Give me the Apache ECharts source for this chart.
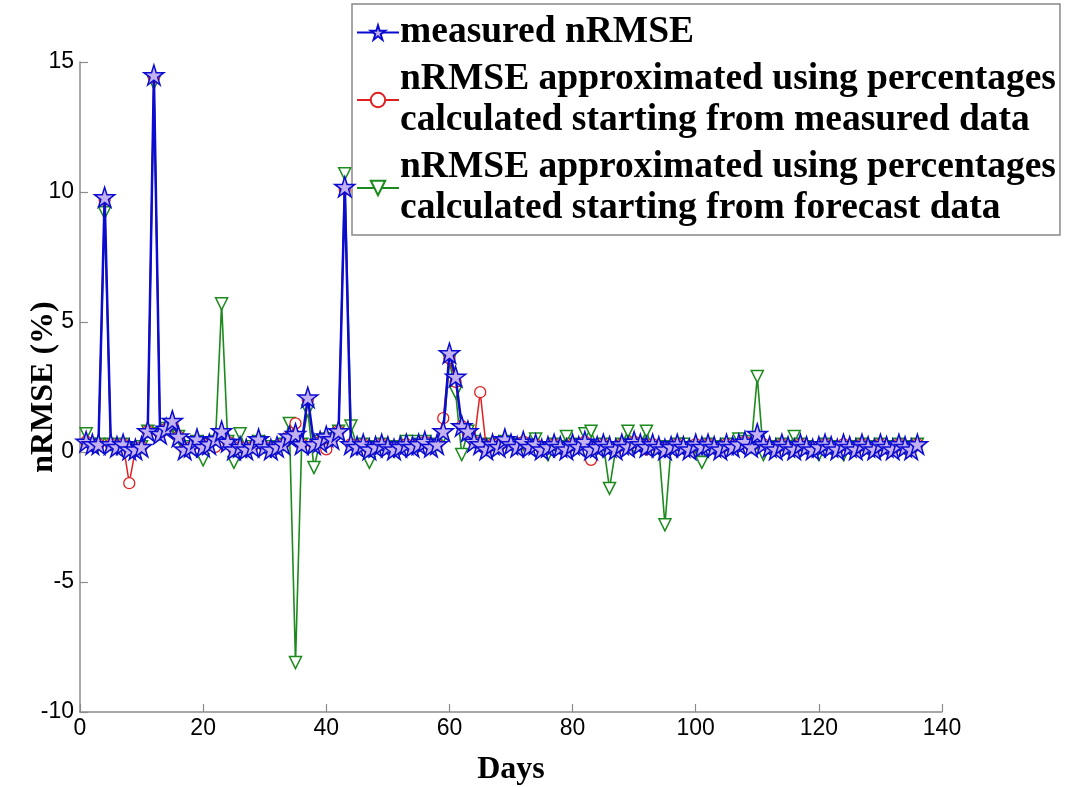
<!DOCTYPE html>
<html>
<head>
<meta charset="utf-8">
<script src="https://cdn.jsdelivr.net/npm/echarts@6/dist/echarts.min.js"></script>
<style>html,body{margin:0;padding:0;background:#fff;}#c{width:1068px;height:787px;}</style>
</head>
<body>
<div id="c"></div>
<script>
const seriesNames = [
  'measured nRMSE',
  'nRMSE approximated using percentages\ncalculated starting from measured data',
  'nRMSE approximated using percentages\ncalculated starting from forecast data'
];
const xTicks = [0, 20, 40, 60, 80, 100, 120, 140];
const yTicks = [-10, -5, 0, 5, 10, 15];
const days = Array.from({length: 136}, (_, i) => i + 1);

const measured = [
  0.4,0.3,0.3,9.8,0.3,0.2,0.3,0.1,0.1,0.2,
  0.8,14.5,0.7,0.9,1.2,0.6,0.1,0.2,0.5,0.2,
  0.3,0.5,0.8,0.4,0.1,0.2,0.1,0.2,0.5,0.2,
  0.1,0.2,0.3,0.6,0.7,0.3,2.1,0.3,0.4,0.6,
  0.5,0.8,10.2,0.3,0.2,0.3,0.1,0.2,0.3,0.2,
  0.1,0.2,0.3,0.2,0.3,0.4,0.2,0.3,0.8,3.8,
  2.9,1.0,0.8,0.4,0.3,0.1,0.3,0.2,0.5,0.3,
  0.2,0.4,0.2,0.3,0.1,0.2,0.3,0.2,0.1,0.3,
  0.2,0.4,0.1,0.2,0.3,0.2,0.1,0.3,0.2,0.4,
  0.3,0.2,0.3,0.2,0.1,0.2,0.3,0.2,0.1,0.3,
  0.2,0.3,0.2,0.1,0.3,0.2,0.3,0.4,0.2,0.7,
  0.3,0.2,0.1,0.3,0.2,0.1,0.3,0.2,0.1,0.2,
  0.3,0.2,0.1,0.3,0.2,0.1,0.3,0.2,0.1,0.3,
  0.2,0.1,0.3,0.2,0.1,0.3
];
const approxMeasured = [
  0.4,0.3,0.3,9.7,0.3,0.2,0.3,-1.2,0.1,0.2,
  0.8,14.4,0.7,0.9,1.1,0.6,0.1,0.2,0.4,0.2,
  0.3,0.2,0.7,0.4,0.1,0.2,0.1,0.2,0.4,0.2,
  0.1,0.2,0.3,0.6,1.1,0.3,2.0,0.3,0.4,0.1,
  0.5,0.8,10.1,0.3,0.2,0.3,0.1,0.2,0.3,0.2,
  0.1,0.2,0.3,0.2,0.3,0.4,0.2,0.3,1.3,3.6,
  2.7,1.0,0.7,0.4,2.3,0.1,0.3,0.2,0.4,0.3,
  0.2,0.4,0.2,0.3,0.1,0.2,0.3,0.2,0.1,0.3,
  0.2,0.4,-0.3,0.2,0.3,0.2,0.1,0.3,0.2,0.4,
  0.3,0.1,0.3,0.2,0.1,0.2,0.3,0.2,0.1,0.3,
  0.2,0.3,0.2,0.1,0.3,0.2,0.3,0.4,0.2,0.6,
  0.3,0.2,0.1,0.3,0.2,0.1,0.3,0.2,0.1,0.2,
  0.3,0.2,0.1,0.3,0.2,0.1,0.3,0.2,0.1,0.3,
  0.2,0.1,0.3,0.2,0.1,0.3
];
const approxForecast = [
  0.7,0.3,0.3,9.2,0.3,0.2,0.3,0.1,0.1,0.2,
  0.8,14.2,0.7,0.9,1.0,0.6,0.1,0.2,0.4,-0.3,
  0.3,0.4,5.7,0.4,-0.4,0.7,0.1,0.2,0.4,0.2,
  0.1,0.2,0.3,1.1,-8.1,0.3,1.6,-0.6,0.4,0.5,
  0.5,0.8,10.7,1.0,0.2,0.3,-0.4,0.2,0.3,0.2,
  0.1,0.2,0.4,0.4,0.3,0.4,0.2,0.3,0.6,3.5,
  2.3,-0.1,0.8,0.4,0.3,0.1,0.3,0.2,0.4,0.3,
  0.2,0.3,0.2,0.5,0.1,-0.1,0.3,0.2,0.6,0.3,
  0.2,0.7,0.8,0.2,0.3,-1.4,0.1,0.3,0.8,0.2,
  0.3,0.8,0.1,0.2,-2.8,0.2,0.3,0.3,0.1,0.2,
  -0.4,0.3,0.2,0.1,0.3,0.2,0.5,0.4,0.2,2.9,
  -0.1,0.2,0.1,0.3,0.2,0.6,0.3,0.2,0.1,-0.1,
  0.3,0.2,0.1,-0.1,0.2,0.1,0.3,0.2,0.1,0.3,
  0.2,0.1,0.3,0.2,0.1,0.3
];

const STAR = 'path://M50,0L61.17,34.63L97.55,34.55L68.07,55.87L79.39,90.45L50,69L20.61,90.45L31.93,55.87L2.45,34.55L38.83,34.63Z';
const pairs = arr => days.map((d, i) => [d, arr[i]]);

const chart = echarts.init(document.getElementById('c'), null, {renderer: 'canvas'});
const axisGray = '#8c8c8c';
chart.setOption({
  animation: false,
  backgroundColor: '#fff',
  grid: {left: 80, right: 126, top: 62, bottom: 75, containLabel: false, outerBoundsMode: 'none'},
  legend: {
    orient: 'vertical', left: 352, top: 4,
    padding: [8, 4, 6, 4],
    backgroundColor: '#fff', borderColor: '#888', borderWidth: 1.5, borderRadius: 0,
    itemWidth: 42, itemHeight: 18, itemGap: 6,
    data: seriesNames,
    textStyle: {fontFamily: 'Liberation Serif', fontWeight: 'bold', fontSize: 37.5, lineHeight: 41, color: '#000', padding: [0,0,0,-4]}
  },
  xAxis: {
    type: 'value', min: 0, max: 140, interval: 20,
    name: 'Days', nameLocation: 'middle', nameGap: 42, nameMoveOverlap: false,
    nameTextStyle: {fontFamily: 'Liberation Serif', fontWeight: 'bold', fontSize: 32, color: '#000'},
    axisLine: {onZero: false, lineStyle: {color: axisGray, width: 1.5}},
    axisTick: {inside: true, length: 8, lineStyle: {color: axisGray, width: 1.2}},
    axisLabel: {fontFamily: 'Liberation Sans', fontSize: 23, color: '#000', margin: 5,
      formatter: v => xTicks.includes(v) ? String(v) : ''},
    splitLine: {show: false}
  },
  yAxis: {
    type: 'value', min: -10, max: 15, interval: 5,
    name: 'nRMSE (%)', nameLocation: 'middle', nameGap: 20, nameRotate: 90, nameMoveOverlap: false,
    nameTextStyle: {fontFamily: 'Liberation Serif', fontWeight: 'bold', fontSize: 32, color: '#000'},
    axisLine: {onZero: false, lineStyle: {color: axisGray, width: 1.5}},
    axisTick: {inside: true, length: 8, lineStyle: {color: axisGray, width: 1.2}},
    axisLabel: {fontFamily: 'Liberation Sans', fontSize: 23, color: '#000', margin: 6,
      formatter: v => yTicks.includes(v) ? String(v) : ''},
    splitLine: {show: false}
  },
  series: [
    {
      name: seriesNames[2], type: 'line', z: 2, data: pairs(approxForecast),
      symbol: 'triangle', symbolRotate: 180, symbolSize: 12, showAllSymbol: true,
      lineStyle: {color: '#1c8a1c', width: 1.6},
      itemStyle: {color: '#ffffff', borderColor: '#1c8a1c', borderWidth: 1.5}
    },
    {
      name: seriesNames[1], type: 'line', z: 3, data: pairs(approxMeasured),
      symbol: 'circle', symbolSize: 11, showAllSymbol: true,
      lineStyle: {color: '#e02020', width: 1.5},
      itemStyle: {color: '#ffffff', borderColor: '#e02020', borderWidth: 1.3}
    },
    {
      name: seriesNames[0], type: 'line', z: 4, data: pairs(measured),
      symbol: STAR, symbolSize: 20, showAllSymbol: true,
      lineStyle: {color: '#0c0cd0', width: 2.5},
      itemStyle: {color: '#c4b2f0', borderColor: '#0c0cd0', borderWidth: 1.5}
    }
  ]
});
</script>
</body>
</html>
